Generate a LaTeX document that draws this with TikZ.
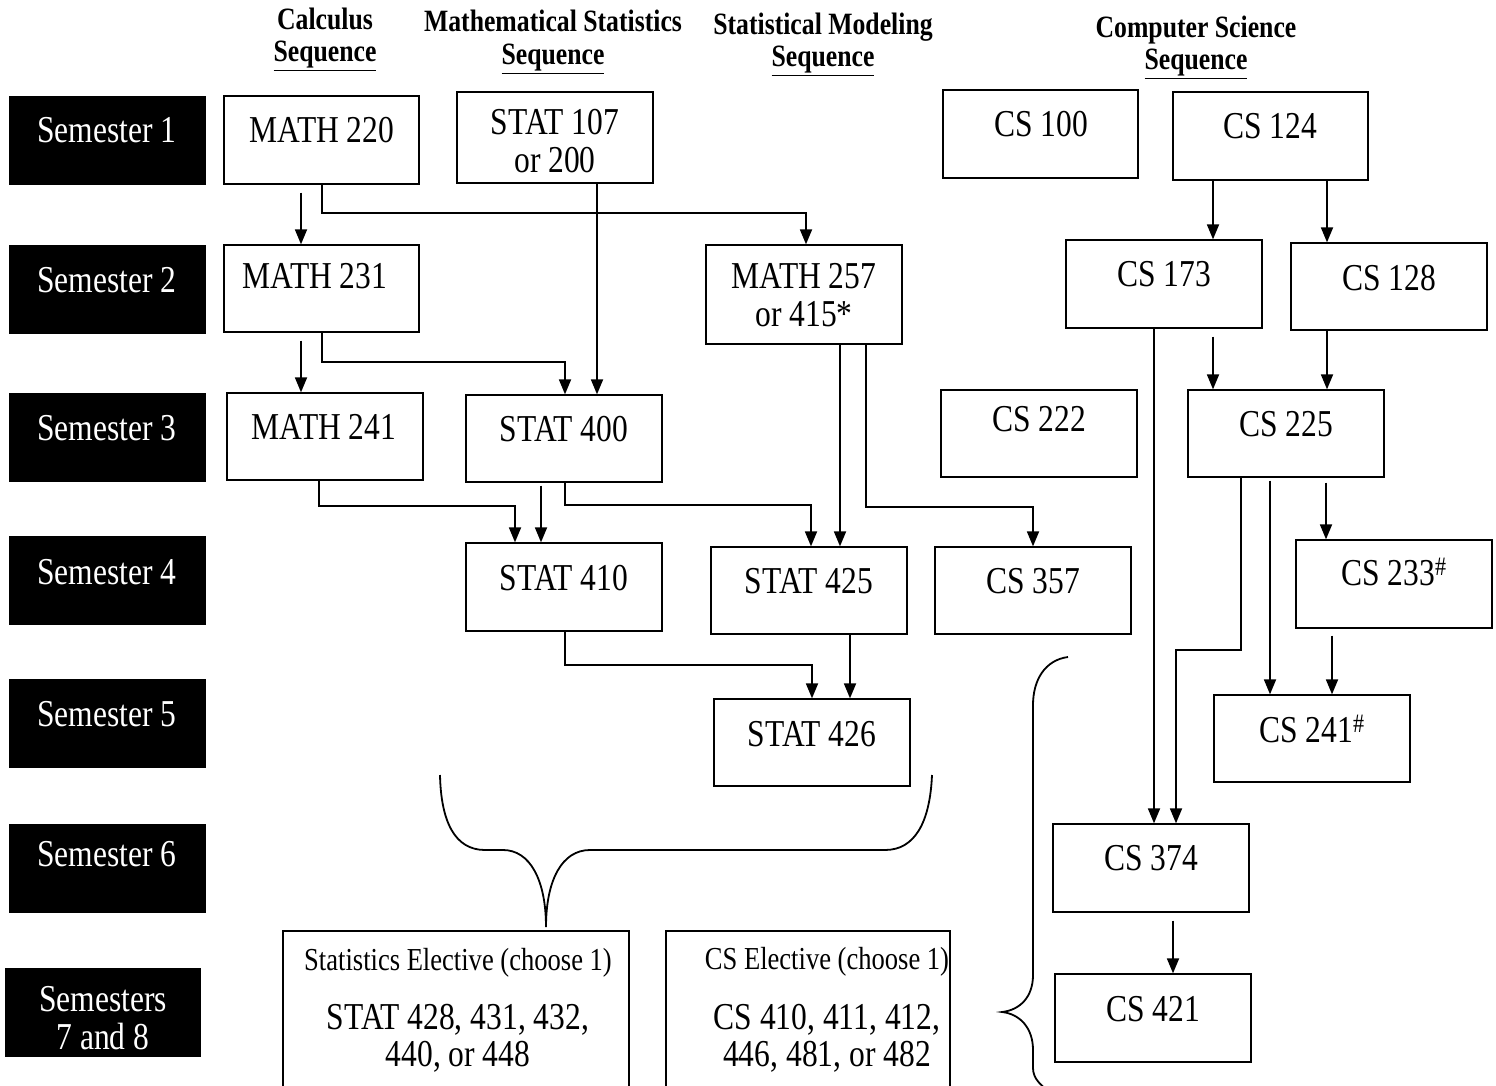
\documentclass[tikz,border=0pt]{standalone}
\usepackage{fontspec}
\setmainfont{Liberation Serif}[FakeStretch=0.83]
\usetikzlibrary{fit,arrows.meta}
\newcommand\fbig{\fontsize{38}{38}\selectfont}
\newcommand\fsmall{\fontsize{32}{32}\selectfont}
\newcommand\fhead{\fontsize{31}{31}\selectfont\bfseries}
\begin{document}
\begin{tikzpicture}[x=1pt,y=-1pt,
  box/.style={draw=black,line width=1.3pt,inner sep=0pt,fill=white},
  sem/.style={draw=black,fill=black,inner sep=0pt},
  lbl/.style={anchor=base,inner sep=0pt,font=\fbig},
  slbl/.style={anchor=base,inner sep=0pt,font=\fbig,text=white},
  small/.style={anchor=base,inner sep=0pt,font=\fsmall},
  head/.style={anchor=base,inner sep=0pt,font=\fhead},
  arr/.style={line width=1.8pt,-{Triangle[length=15pt,width=12pt]}},
  brace/.style={line width=1.8pt}]
\useasboundingbox (0,0) rectangle (1496,1086);
\clip (0,0) rectangle (1496,1086);
% headers
\node[head] (h1a) at (325,30) {Calculus};
\node[head] (h1b) at (325,62) {\underline{Sequence}};
\node[head] (h2a) at (553,32) {Mathematical Statistics};
\node[head] (h2b) at (553,65) {\underline{Sequence}};
\node[head] (h3a) at (823,35) {Statistical Modeling};
\node[head] (h3b) at (823,67) {\underline{Sequence}};
\node[head] (h4a) at (1196,38) {Computer Science};
\node[head] (h4b) at (1196,70) {\underline{Sequence}};
% semester boxes
\node[sem,fit={(9,96) (205,184)}] (sem1) {};
\node[sem,fit={(9,245) (205,333)}] (sem2) {};
\node[sem,fit={(9,393) (205,481)}] (sem3) {};
\node[sem,fit={(9,536) (205,624)}] (sem4) {};
\node[sem,fit={(9,679) (205,767)}] (sem5) {};
\node[sem,fit={(9,824) (205,912)}] (sem6) {};
\node[sem,fit={(5,968) (200,1056)}] (sem7) {};
\node[slbl] (sem1t) at (107,143) {Semester 1};
\node[slbl] (sem2t) at (107,292) {Semester 2};
\node[slbl] (sem3t) at (107,440) {Semester 3};
\node[slbl] (sem4t) at (107,584) {Semester 4};
\node[slbl] (sem5t) at (107,726) {Semester 5};
\node[slbl] (sem6t) at (107,866) {Semester 6};
\node[slbl] (sem7t) at (103,1011) {Semesters};
\node[slbl] (sem7u) at (103,1049) {7 and 8};
% course boxes
\node[box,fit={(224,96) (419,184)}] (m220) {};
\node[box,fit={(457,92) (653,183)}] (s107) {};
\node[box,fit={(943,90) (1138,178)}] (cs100) {};
\node[box,fit={(1173,92) (1368,180)}] (cs124) {};
\node[box,fit={(224,245) (419,332)}] (m231) {};
\node[box,fit={(706,245) (902,344)}] (m257) {};
\node[box,fit={(1066,240) (1262,328)}] (cs173) {};
\node[box,fit={(1291,243) (1487,330)}] (cs128) {};
\node[box,fit={(227,393) (423,480)}] (m241) {};
\node[box,fit={(466,395) (662,482)}] (s400) {};
\node[box,fit={(941,390) (1137,477)}] (cs222) {};
\node[box,fit={(1188,390) (1384,477)}] (cs225) {};
\node[box,fit={(466,543) (662,631)}] (s410) {};
\node[box,fit={(711,547) (907,634)}] (s425) {};
\node[box,fit={(935,547) (1131,634)}] (cs357) {};
\node[box,fit={(1296,540) (1492,628)}] (cs233) {};
\node[box,fit={(714,699) (910,786)}] (s426) {};
\node[box,fit={(1214,695) (1410,782)}] (cs241) {};
\node[box,fit={(1053,824) (1249,912)}] (cs374) {};
\node[box,fit={(1055,974) (1251,1062)}] (cs421) {};
\node[box,fit={(283,931) (629,1100)}] (selec) {};
\node[box,fit={(666,931) (950,1100)}] (celec) {};
% course labels
\node[lbl] (m220t) at (322,143) {MATH 220};
\node[lbl] (s107t) at (555,135) {STAT 107};
\node[lbl] (s107u) at (555,173) {or 200};
\node[lbl] (cs100t) at (1041,137) {CS 100};
\node[lbl] (cs124t) at (1270,139) {CS 124};
\node[lbl] (m231t) at (315,288) {MATH 231};
\node[lbl] (m257t) at (804,288) {MATH 257};
\node[lbl] (m257u) at (804,326) {or 415*};
\node[lbl] (cs173t) at (1164,286) {CS 173};
\node[lbl] (cs128t) at (1389,290) {CS 128};
\node[lbl] (m241t) at (324,439) {MATH 241};
\node[lbl] (s400t) at (564,441) {STAT 400};
\node[lbl] (cs222t) at (1039,431) {CS 222};
\node[lbl] (cs225t) at (1286,436) {CS 225};
\node[lbl] (s410t) at (564,590) {STAT 410};
\node[lbl] (s425t) at (809,593) {STAT 425};
\node[lbl] (cs357t) at (1033,593) {CS 357};
\node[lbl] (cs233t) at (1394,585) {CS 233\textsuperscript{\#}};
\node[lbl] (s426t) at (812,746) {STAT 426};
\node[lbl] (cs241t) at (1312,742) {CS 241\textsuperscript{\#}};
\node[lbl] (cs374t) at (1151,870) {CS 374};
\node[lbl] (cs421t) at (1153,1021) {CS 421};
\node[small] (select) at (458,970) {Statistics Elective (choose 1)};
\node[lbl] (seleca) at (458,1029) {STAT 428, 431, 432,};
\node[lbl] (selecb) at (458,1066) {440, or 448};
\node[small] (celect) at (827,969) {CS Elective (choose 1)};
\node[lbl] (celeca) at (827,1029) {CS 410, 411, 412,};
\node[lbl] (celecb) at (827,1066) {446, 481, or 482};
% connectors
\draw[arr] (m220.south -| 301,0) ++(0,8) -- (m231.north -| 301,0);
\draw[arr] (m220.south -| 322,0) -- (322,213) -| (m257.north -| 806,0);
\draw[arr] (s107.south -| 597,0) -- (s400.north -| 597,0);
\draw[arr] (m231.south -| 301,0) ++(0,8) -- (m241.north -| 301,0);
\draw[arr] (m231.south -| 322,0) -- (322,362) -| (s400.north -| 565,0);
\draw[arr] (cs124.south -| 1213,0) -- (cs173.north -| 1213,0);
\draw[arr] (cs124.south -| 1327,0) -- (cs128.north -| 1327,0);
\draw[arr] (cs173.south -| 1213,0) ++(0,8) -- (cs225.north -| 1213,0);
\draw[arr] (cs128.south -| 1327,0) -- (cs225.north -| 1327,0);
\draw[arr] (cs173.south -| 1154,0) -- (cs374.north -| 1154,0);
\draw[arr] (m241.south -| 319,0) -- (319,506) -| (s410.north -| 515,0);
\draw[arr] (s400.south -| 541,0) ++(0,3) -- (s410.north -| 541,0);
\draw[arr] (s400.south -| 565,0) -- (565,505) -| (s425.north -| 811,0);
\draw[arr] (m257.south -| 840,0) -- (s425.north -| 840,0);
\draw[arr] (m257.south -| 866,0) -- (866,507) -| (cs357.north -| 1033,0);
\draw[arr] (cs225.south -| 1241,0) -- (1241,650) -| (cs374.north -| 1176,0);
\draw[arr] (cs225.south -| 1270,0) ++(0,3) -- (cs241.north -| 1270,0);
\draw[arr] (cs225.south -| 1326,0) ++(0,5) -- (cs233.north -| 1326,0);
\draw[arr] (cs233.south -| 1332,0) ++(0,7) -- (cs241.north -| 1332,0);
\draw[arr] (s410.south -| 565,0) -- (565,665) -| (s426.north -| 812,0);
\draw[arr] (s425.south -| 850,0) -- (s426.north -| 850,0);
\draw[arr] (cs374.south -| 1173,0) ++(0,8) -- (cs421.north -| 1173,0);
% braces
\draw[brace] (440,775) .. controls (441,822) and (455,850) .. (485,850) -- (503,850)
  .. controls (530,850) and (546,880) .. (546,927)
  .. controls (546,880) and (562,850) .. (590,850) -- (885,850)
  .. controls (915,850) and (930,822) .. (932,775);
\draw[brace] (1068,657) .. controls (1045,660) and (1033,680) .. (1033,705) -- (1033,975)
  .. controls (1033,997) and (1020,1010) .. (1002,1012)
  .. controls (1020,1014) and (1033,1028) .. (1033,1050) -- (1033,1068)
  .. controls (1033,1078) and (1040,1085) .. (1050,1092);
\end{tikzpicture}
\end{document}
